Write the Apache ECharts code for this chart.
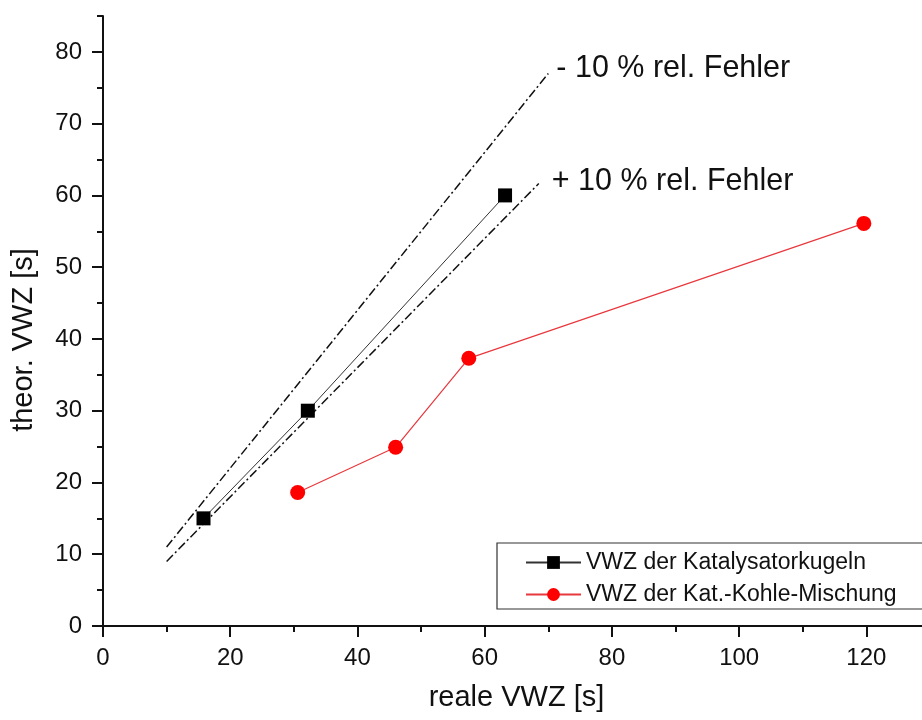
<!DOCTYPE html>
<html>
<head>
<meta charset="utf-8">
<script src="https://cdn.jsdelivr.net/npm/echarts@6/dist/echarts.min.js"></script>
<style>
  html, body { margin: 0; padding: 0; background: #fff; }
  #chart { width: 922px; height: 720px; }
</style>
</head>
<body>
<div id="chart"></div>
<script>
const katX = [15.8, 32.2, 63.2]
const katY = [15.0, 30.0, 60.0]
const mixX = [30.6, 46.0, 57.5, 119.6]
const mixY = [18.6, 24.9, 37.3, 56.1]

// Fehlergrenzen +/- 10 %
const minusErrX = [10, 70]
const minusErrY = [11, 77]
const plusErrX = [10, 68.5]
const plusErrY = [9, 61.65]

const xTicks = [0, 20, 40, 60, 80, 100, 120]
const xMinorTicks = [10, 30, 50, 70, 90, 110, 130]
const yTicks = [0, 10, 20, 30, 40, 50, 60, 70, 80]
const yMinorTicks = [5, 15, 25, 35, 45, 55, 65, 75, 85]

const katName = 'VWZ der Katalysatorkugeln'
const mixName = 'VWZ der Kat.-Kohle-Mischung'

const font = '"Liberation Sans", Arial, sans-serif'
const ink = '#111'

const pairs = (xs, ys) => xs.map((x, i) => [x, ys[i]])

const mainAxis = (ticks, margin, extra) => Object.assign({
  type: 'value',
  min: 0,
  axisLine: { show: true, onZero: false, lineStyle: { color: ink, width: 2 } },
  axisTick: { show: true, length: 11, customValues: ticks, lineStyle: { color: ink, width: 2 } },
  axisLabel: { customValues: ticks, margin: margin, color: ink, fontSize: 24, fontFamily: font },
  splitLine: { show: false }
}, extra)

const minorAxis = (ticks, extra) => Object.assign({
  type: 'value',
  min: 0,
  axisLine: { show: false, onZero: false },
  axisTick: { show: true, length: 6, customValues: ticks, lineStyle: { color: ink, width: 2 } },
  axisLabel: { show: false },
  splitLine: { show: false }
}, extra)

const errLine = (xs, ys, text, offset) => ({
  type: 'line',
  data: pairs(xs, ys),
  symbol: 'none',
  silent: true,
  lineStyle: { color: ink, width: 1.5, type: [9, 3, 2, 3] },
  endLabel: {
    show: true,
    formatter: text,
    color: ink,
    fontSize: 30.5,
    fontFamily: font,
    distance: offset[0],
    offset: [0, offset[1]]
  },
  z: 1
})

const chart = echarts.init(document.getElementById('chart'))
chart.setOption({
  animation: false,
  backgroundColor: '#fff',
  grid: { left: 103, right: -8, top: 16, bottom: 94, containLabel: false, outerBoundsMode: 'none' },
  xAxis: [
    mainAxis(xTicks, 20, {
      max: 130, position: 'bottom', name: 'reale VWZ [s]', nameLocation: 'middle', nameGap: 57,
      nameTextStyle: { color: ink, fontSize: 29, fontFamily: font }
    }),
    minorAxis(xMinorTicks, { max: 130, position: 'bottom' })
  ],
  yAxis: [
    mainAxis(yTicks, 21, {
      max: 85, position: 'left', name: 'theor. VWZ [s]', nameLocation: 'middle', nameGap: 65,
      // Titel sitzt etwas unterhalb der Achsenmitte
      nameTextStyle: { color: ink, fontSize: 29, fontFamily: font, padding: [0, 38, 0, 0] }
    }),
    minorAxis(yMinorTicks, { max: 85, position: 'left' })
  ],
  legend: {
    data: [katName, mixName],
    orient: 'vertical',
    left: 497,
    top: 543,
    padding: [8, 30, 3, 28],
    itemWidth: 55,
    itemHeight: 16,
    itemGap: 9,
    borderColor: '#333',
    borderWidth: 1.2,
    borderRadius: 0,
    textStyle: { color: ink, fontSize: 23, fontFamily: font }
  },
  series: [
    errLine(minusErrX, minusErrY, '- 10 % rel. Fehler', [8, -5]),
    errLine(plusErrX, plusErrY, '+ 10 % rel. Fehler', [13, -2]),
    {
      name: katName,
      type: 'line',
      data: pairs(katX, katY),
      symbol: 'rect',
      symbolSize: 14,
      itemStyle: { color: '#000' },
      lineStyle: { color: '#333', width: 1 },
      z: 3
    },
    {
      name: mixName,
      type: 'line',
      data: pairs(mixX, mixY),
      symbol: 'circle',
      symbolSize: 15,
      itemStyle: { color: '#ff0000' },
      lineStyle: { color: '#e8383d', width: 1.2 },
      z: 3
    }
  ]
})
</script>
</body>
</html>
